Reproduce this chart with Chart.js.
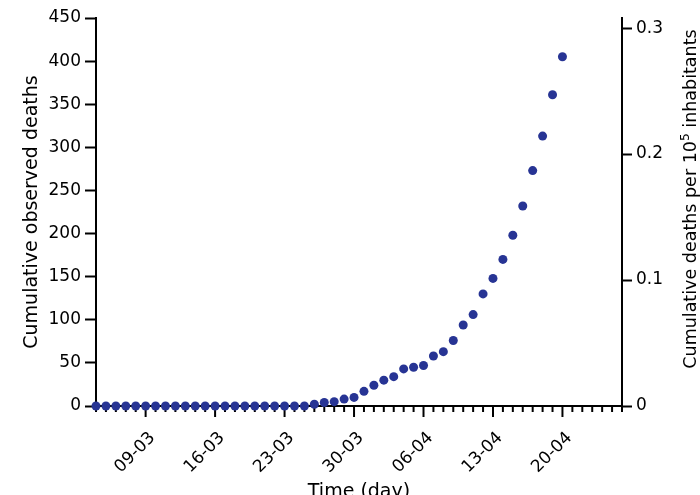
<!DOCTYPE html>
<html><head><meta charset="utf-8">
<script src="https://cdn.jsdelivr.net/npm/chart.js@4/dist/chart.umd.min.js"></script>
<style>html,body{margin:0;padding:0;background:#fff}</style>
</head><body>
<canvas id="c" width="700" height="495"></canvas>
<script>
// Categories: every day shown on the time axis (04-03 .. 26-04)
const dates = [
  "04-03","05-03","06-03","07-03","08-03","09-03","10-03","11-03","12-03","13-03",
  "14-03","15-03","16-03","17-03","18-03","19-03","20-03","21-03","22-03","23-03",
  "24-03","25-03","26-03","27-03","28-03","29-03","30-03","31-03",
  "01-04","02-04","03-04","04-04","05-04","06-04","07-04","08-04","09-04","10-04",
  "11-04","12-04","13-04","14-04","15-04","16-04","17-04","18-04","19-04","20-04",
  "21-04","22-04","23-04","24-04","25-04","26-04"
];
// Cumulative observed deaths, 04-03 .. 20-04
const deaths = [
  0,0,0,0,0,0,0,0,0,0,
  0,0,0,0,0,0,0,0,0,0,
  0,0,2,4,5,8,10,17,24,30,
  34,43,45,47,58,63,76,94,106,130,
  148,170,198,232,273,313,361,405
];
const tickLabels = ["09-03","16-03","23-03","30-03","06-04","13-04","20-04"];
const leftTicks = [0,50,100,150,200,250,300,350,400,450];
const rightTicks = [0,0.1,0.2,0.3];
const population = 146.1e6;
const xTitle = "Time (day)";
const leftTitle = "Cumulative observed deaths";
const rightTitleParts = ["Cumulative deaths per 10", "5", " inhabitants"];

const F = '"DejaVu Sans", sans-serif';
const DOT = '#273494';

const minorTicks = {
  id: 'minorTicks',
  beforeDatasetsDraw(chart) {
    const sx = chart.scales.x, ctx = chart.ctx, b = chart.chartArea.bottom;
    ctx.save();
    ctx.strokeStyle = '#000'; ctx.lineWidth = 2;
    dates.forEach((d, i) => {
      const px = sx.getPixelForValue(i);
      const len = tickLabels.includes(d) ? 11 : 6;
      ctx.beginPath(); ctx.moveTo(px, b); ctx.lineTo(px, b + len); ctx.stroke();
    });
    ctx.restore();
  }
};

const rightTitle = {
  id: 'rightTitle',
  afterDraw(chart) {
    const ctx = chart.ctx;
    const fs = 17.5;
    const big = fs + 'px ' + F, small = (fs * 0.7) + 'px ' + F;
    ctx.save();
    ctx.font = big;
    const w1 = ctx.measureText(rightTitleParts[0]).width;
    const w3 = ctx.measureText(rightTitleParts[2]).width;
    ctx.font = small;
    const w2 = ctx.measureText(rightTitleParts[1]).width;
    const total = w1 + w2 + w3;
    const cy = 199;
    ctx.translate(chart.width - 4, cy);
    ctx.rotate(-Math.PI / 2);
    ctx.fillStyle = '#000';
    ctx.textAlign = 'left'; ctx.textBaseline = 'alphabetic';
    let x = -total / 2;
    ctx.font = big; ctx.fillText(rightTitleParts[0], x, 0); x += w1;
    ctx.font = small; ctx.fillText(rightTitleParts[1], x, -fs * 0.42); x += w2;
    ctx.font = big; ctx.fillText(rightTitleParts[2], x, 0);
    ctx.restore();
  }
};

new Chart(document.getElementById('c'), {
  type: 'line',
  data: {
    labels: dates,
    datasets: [{
      data: deaths,
      showLine: false,
      pointRadius: 4.5,
      pointHoverRadius: 4.5,
      pointBackgroundColor: DOT,
      pointBorderColor: DOT,
      pointBorderWidth: 0,
      clip: false,
      yAxisID: 'y'
    }]
  },
  options: {
    responsive: false,
    animation: false,
    events: [],
    layout: { padding: { top: 18, left: 0, right: 0, bottom: 0 } },
    plugins: { legend: { display: false }, tooltip: { enabled: false } },
    scales: {
      x: {
        type: 'category',
        offset: false,
        grid: { display: true, drawOnChartArea: false, drawTicks: true, tickLength: 10, tickColor: 'rgba(0,0,0,0)' },
        border: { display: true, color: '#000', width: 2 },
        ticks: {
          autoSkip: false, maxRotation: 45, minRotation: 45, padding: 12, labelOffset: 7,
          color: '#000', font: { family: F, size: 17 },
          callback: function (v, i) { const l = dates[i]; return tickLabels.includes(l) ? l : ''; }
        },
        title: { display: true, text: xTitle, color: '#000', font: { family: F, size: 19 }, padding: { top: 0, bottom: -8 } },
        afterFit: s => { s.height = 89; }
      },
      y: {
        position: 'left',
        min: leftTicks[0], max: leftTicks[leftTicks.length - 1],
        grid: { display: true, drawOnChartArea: false, drawTicks: true, tickLength: 11, tickColor: '#000', tickWidth: 2 },
        border: { display: true, color: '#000', width: 2 },
        ticks: { stepSize: leftTicks[1] - leftTicks[0], padding: 4, color: '#000', font: { family: F, size: 17 } },
        title: { display: true, text: leftTitle, color: '#000', font: { family: F, size: 19 }, padding: { top: 21, bottom: 0 } },
        afterFit: s => { s.width = 96; }
      },
      y2: {
        position: 'right',
        min: 0, max: leftTicks[leftTicks.length - 1] / population * 1e5,
        grid: { display: true, drawOnChartArea: false, drawTicks: true, tickLength: 10, tickColor: '#000', tickWidth: 2 },
        border: { display: true, color: '#000', width: 2 },
        ticks: {
          stepSize: rightTicks[1] - rightTicks[0], includeBounds: false, padding: 4,
          color: '#000', font: { family: F, size: 17 },
          callback: v => v === 0 ? '0' : (+v).toFixed(1)
        },
        afterFit: s => { s.width = 78; }
      }
    }
  },
  plugins: [minorTicks, rightTitle]
});
</script>
</body></html>
